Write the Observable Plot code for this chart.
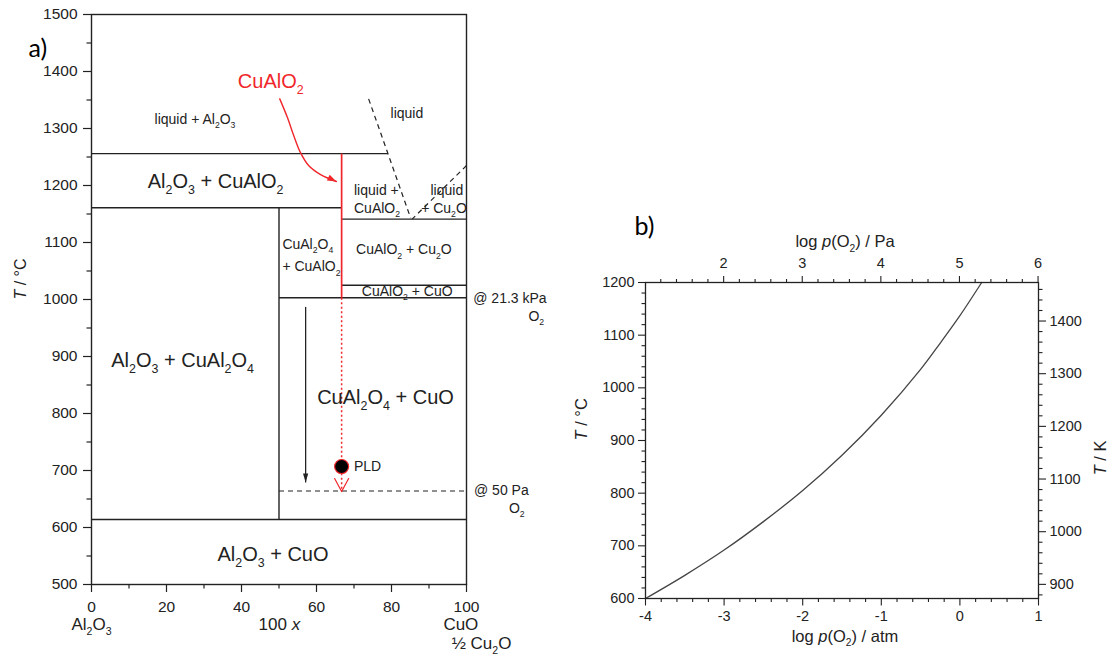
<!DOCTYPE html>
<html><head><meta charset="utf-8">
<script src="https://cdn.jsdelivr.net/npm/d3@7"></script>
<script src="https://cdn.jsdelivr.net/npm/@observablehq/plot@0.6"></script>
<style>
html,body{margin:0;padding:0;background:#fff;}
#wrap{position:relative;width:1114px;height:660px;overflow:hidden;background:#fff;}
#wrap svg{position:absolute;top:0;max-width:none !important;}
</style></head><body><div id="wrap"></div>
<script>
// ================= Panel a: Al2O3 – CuO/½Cu2O phase diagram (100 x , T / °C)
const tTicksA = [500, 600, 700, 800, 900, 1000, 1100, 1200, 1300, 1400, 1500];
const tMinorA = [550, 650, 750, 850, 950, 1050, 1150, 1250, 1350, 1450];
const xTicksA = [0, 20, 40, 60, 80, 100];
const xMinorA = [10, 30, 50, 70, 90];

// solid phase boundaries
const phaseLines = [
  {x1: 0, T1: 1256, x2: 79, T2: 1256},
  {x1: 0, T1: 1161, x2: 66.7, T2: 1161},
  {x1: 50, T1: 1161, x2: 50, T2: 614},
  {x1: 66.7, T1: 1141, x2: 100, T2: 1141},
  {x1: 66.7, T1: 1025, x2: 100, T2: 1025},
  {x1: 50, T1: 1003, x2: 100, T2: 1003},
  {x1: 0, T1: 614, x2: 100, T2: 614}
];
// dashed liquidus lines
const liquidusLines = [
  {x1: 73.9, T1: 1352, x2: 85.1, T2: 1143},
  {x1: 100, T1: 1235, x2: 85.5, T2: 1141}
];
// CuAlO2 line compound (solid red) and its metastable path (dotted red)
const cuAlO2Line = [{x: 66.7, T1: 1256, T2: 1003}];
const cuAlO2Path = [{x: 66.7, T1: 1003, T2: 663}];
const pldPoint = [{x: 66.7, T: 707}];
const coolingArrow = [{x: 57.1, T1: 987, T2: 679}];
const line50Pa = [{x1: 50, x2: 100, T: 664}];
// red curved pointer from the "CuAlO2" label
const pointerX = [50.2, 52.2, 53.9, 55.7, 57.9, 61.1, 65.3];
const pointerT = [1352, 1320, 1288, 1258, 1235, 1219, 1207];

const bigLabels = [
  {text: "Al_2O_3 + CuAlO_2", x: 33.1, T: 1206},
  {text: "Al_2O_3 + CuAl_2O_4", x: 24.3, T: 892},
  {text: "CuAl_2O_4 + CuO", x: 78.4, T: 828},
  {text: "Al_2O_3 + CuO", x: 48.4, T: 553}
];
const redLabel = [{text: "CuAlO_2", x: 47.8, T: 1382}];
const smallCentered = [
  {text: "liquid + Al_2O_3", x: 27.6, T: 1316},
  {text: "liquid", x: 84.1, T: 1327},
  {text: "CuAlO_2 + Cu_2O", x: 83.3, T: 1087},
  {text: "CuAlO_2 + CuO", x: 84.2, T: 1014}
];
const smallStart = [
  {text: "liquid +", x: 70, T: 1192},
  {text: "CuAlO_2", x: 70, T: 1160},
  {text: "liquid", x: 90.4, T: 1192},
  {text: "+ Cu_2O", x: 87.9, T: 1160},
  {text: "CuAl_2O_4", x: 50.9, T: 1097},
  {text: "+ CuAlO_2", x: 50.9, T: 1057},
  {text: "@ 21.3 kPa", x: 101.8, T: 1001},
  {text: "O_2", x: 116.5, T: 971},
  {text: "@ 50 Pa", x: 102, T: 665},
  {text: "O_2", x: 111.3, T: 633},
  {text: "PLD", x: 70, T: 707}
];
const endLabels = [
  {text: "Al_2O_3", x: 0, row: 1},
  {text: "100 *x*", x: 50.1, row: 1},
  {text: "CuO", x: 98.5, row: 1},
  {text: "½ Cu_2O", x: 104, row: 2}
];

// ================= Panel b: log p(O2) vs T (CuO / Cu2O equilibrium)
const logPatm = [-4, -3.5, -3, -2.5, -2, -1.5, -1, -0.5, -0.25, 0, 0.277];
const tempC   = [600, 644, 692, 746, 805, 872, 948, 1035, 1085, 1137, 1200];
const atmTicks = [-4, -3, -2, -1, 0, 1];
const paTicks = [2, 3, 4, 5, 6];
const tTicksB = [600, 700, 800, 900, 1000, 1100, 1200];
const kTicks = [900, 1000, 1100, 1200, 1300, 1400];
const PA_OFFSET = Math.log10(101325); // log(Pa) = log(atm) + 5.0057
const K_OFFSET = 273.15;

// ---------------------------------------------------------------
const FONT = "'Liberation Sans', Arial, sans-serif";
const INK = "#222";
const RED = "#f0262a";
const baseStyle = {fontFamily: FONT, fontSize: "15.5px", color: INK, background: "transparent", overflow: "visible"};

const vShape = {draw(c, l, r) { c.moveTo(-r, 0); c.lineTo(0, -l); c.lineTo(r, 0); }};

const plotA = Plot.plot({
  width: 580, height: 660,
  marginLeft: 91, marginRight: 114, marginTop: 14, marginBottom: 76,
  x: {domain: [0, 100], label: null},
  y: {domain: [500, 1500], label: null},
  style: baseStyle,
  marks: [
    Plot.axisY({ticks: tTicksA, tickSize: 8, tickPadding: 6, tickFormat: d => String(d), label: null, strokeWidth: 1.2}),
    Plot.axisY({ticks: tMinorA, tickSize: 4.5, tickFormat: () => "", label: null, strokeWidth: 1.2}),
    Plot.axisX({ticks: xTicksA, tickSize: 8, tickPadding: 8, tickFormat: d => String(d), label: null, strokeWidth: 1.2}),
    Plot.axisX({ticks: xMinorA, tickSize: 4.5, tickFormat: () => "", label: null, strokeWidth: 1.2}),
    Plot.link(phaseLines, {x1: "x1", y1: "T1", x2: "x2", y2: "T2", stroke: INK, strokeWidth: 1.4}),
    Plot.link(liquidusLines, {x1: "x1", y1: "T1", x2: "x2", y2: "T2", stroke: INK, strokeWidth: 1.2, strokeDasharray: "5,4"}),
    Plot.link(line50Pa, {x1: "x1", x2: "x2", y1: "T", y2: "T", stroke: INK, strokeWidth: 1.2, strokeDasharray: "5,4"}),
    Plot.link(cuAlO2Line, {x1: "x", x2: "x", y1: "T1", y2: "T2", stroke: RED, strokeWidth: 1.7}),
    Plot.link(cuAlO2Path, {x1: "x", x2: "x", y1: "T1", y2: "T2", stroke: RED, strokeWidth: 1.5, strokeDasharray: "2,2.5"}),
    Plot.vector(cuAlO2Path, {x: "x", y: "T2", length: 13, r: 7, rotate: 180, anchor: "end", shape: vShape, stroke: RED, strokeWidth: 1.2, fill: "none"}),
    Plot.link(coolingArrow, {x1: "x", x2: "x", y1: "T1", y2: "T2", stroke: INK, strokeWidth: 1.3}),
    Plot.vector(coolingArrow, {x: "x", y: "T2", length: 9, r: 2.6, rotate: 180, anchor: "end", shape: "spike", fill: INK, stroke: "none"}),
    Plot.line(pointerX.map((x, i) => ({x, T: pointerT[i]})), {x: "x", y: "T", curve: "catmull-rom", stroke: RED, strokeWidth: 1.4}),
    Plot.vector([{x: pointerX[pointerX.length - 1], T: pointerT[pointerT.length - 1]}], {x: "x", y: "T", length: 9, r: 3.2, rotate: 116, anchor: "end", shape: "spike", fill: RED, stroke: "none"}),
    Plot.dot(pldPoint, {x: "x", y: "T", r: 7, fill: "#000", stroke: RED, strokeWidth: 1.2}),
    Plot.frame({stroke: INK, strokeWidth: 1.4}),
    Plot.text(bigLabels, {x: "x", y: "T", text: "text", fontSize: 20, fill: INK}),
    Plot.text(redLabel, {x: "x", y: "T", text: "text", fontSize: 20, fill: RED}),
    Plot.text(smallCentered, {x: "x", y: "T", text: "text", fontSize: 14, fill: INK}),
    Plot.text(smallStart, {x: "x", y: "T", text: "text", fontSize: 14, fill: INK, textAnchor: "start"}),
    Plot.text(endLabels.filter(d => d.row === 1), {x: "x", text: "text", frameAnchor: "bottom", dy: 45, fontSize: 17, fill: INK}),
    Plot.text(endLabels.filter(d => d.row === 2), {x: "x", text: "text", frameAnchor: "bottom", dy: 64, fontSize: 17, fill: INK}),
    Plot.text(["*T* / °C"], {text: d => d, frameAnchor: "left", dx: -71, rotate: -90, fontSize: 16, fill: INK}),
    Plot.text(["a)"], {text: d => d, frameAnchor: "top-left", dx: -63, dy: 25, fontSize: 25, fontFamily: "Lato, 'Open Sans', sans-serif", fill: "#000"})
  ]
});

const atmMinor = d3.range(-4, 1.0001, 0.2).filter(v => Math.abs(v - Math.round(v)) > 1e-6);
const paMinor = d3.range(1.2, 6.0001, 0.2).filter(v => Math.abs(v - Math.round(v)) > 1e-6).map(v => v - PA_OFFSET).filter(v => v >= -4 && v <= 1);
const tMinorB = d3.range(620, 1200, 20).filter(v => v % 100 !== 0);
const kMinor = d3.range(880, 1480, 20).filter(v => v % 100 !== 0).map(v => v - K_OFFSET).filter(v => v >= 600 && v <= 1200);

const plotB = Plot.plot({
  width: 534, height: 660,
  marginLeft: 65, marginRight: 76, marginTop: 282, marginBottom: 62,
  x: {domain: [-4, 1], label: null},
  y: {domain: [600, 1200], label: null},
  style: {...baseStyle, fontSize: "14.5px"},
  marks: [
    Plot.axisX({ticks: atmTicks, anchor: "bottom", tickSize: 7.5, tickPadding: 5, tickFormat: d => String(d), label: null, strokeWidth: 1.1}),
    Plot.axisX({ticks: atmMinor, anchor: "bottom", tickSize: 4, tickFormat: () => "", label: null, strokeWidth: 1.1}),
    Plot.axisX({ticks: paTicks.map(v => v - PA_OFFSET), anchor: "top", tickSize: 7, tickPadding: 8, tickFormat: d => String(Math.round(d + PA_OFFSET)), label: null, strokeWidth: 1.1}),
    Plot.axisX({ticks: paMinor, anchor: "top", tickSize: 4, tickFormat: () => "", label: null, strokeWidth: 1.1}),
    Plot.axisY({ticks: tTicksB, anchor: "left", tickSize: 7, tickPadding: 4, tickFormat: d => String(d), label: null, strokeWidth: 1.1}),
    Plot.axisY({ticks: tMinorB, anchor: "left", tickSize: 3.5, tickFormat: () => "", label: null, strokeWidth: 1.1}),
    Plot.axisY({ticks: kTicks.map(v => v - K_OFFSET), anchor: "right", tickSize: 7, tickPadding: 4, tickFormat: d => String(Math.round(d + K_OFFSET)), label: null, strokeWidth: 1.1}),
    Plot.axisY({ticks: kMinor, anchor: "right", tickSize: 3.5, tickFormat: () => "", label: null, strokeWidth: 1.1}),
    Plot.line(logPatm.map((x, i) => ({x, T: tempC[i]})), {x: "x", y: "T", curve: "catmull-rom", stroke: "#444", strokeWidth: 1.3}),
    Plot.frame({stroke: INK, strokeWidth: 1.3}),
    Plot.text(["log *p*(O_2) / Pa"], {text: d => d, frameAnchor: "top", dx: 3, dy: -47, fontSize: 16.5, fill: INK}),
    Plot.text(["log *p*(O_2) / atm"], {text: d => d, frameAnchor: "bottom", dx: 3, dy: 43, fontSize: 16.5, fill: INK}),
    Plot.text(["*T* / °C"], {text: d => d, frameAnchor: "left", dx: -64, rotate: -90, fontSize: 16.5, fill: INK}),
    Plot.text(["*T* / K"], {text: d => d, frameAnchor: "right", dx: 62, rotate: -90, fontSize: 16.5, fill: INK}),
    Plot.text(["b)"], {text: d => d, frameAnchor: "top-left", dx: -11, dy: -65, fontSize: 25, fontFamily: "Lato, 'Open Sans', sans-serif", fill: "#000"})
  ]
});

// rich text: "_d" -> subscript, "*t*" -> italic
function richText(svg) {
  const NS = "http://www.w3.org/2000/svg";
  svg.querySelectorAll("text, tspan").forEach(t => {
    if (t.children.length) return;
    const s = t.textContent;
    if (!/_\d|\*/.test(s)) return;
    t.textContent = "";
    let lowered = false;
    for (const m of s.matchAll(/_(\d)|\*([^*]+)\*|([^_*]+)/g)) {
      const ts = document.createElementNS(NS, "tspan");
      if (m[1]) {
        ts.textContent = m[1];
        ts.setAttribute("font-size", "62%");
        ts.setAttribute("dy", lowered ? "0em" : "0.48em");
        lowered = true;
      } else {
        ts.textContent = m[2] || m[3];
        if (m[2]) ts.setAttribute("font-style", "italic");
        if (lowered) { ts.setAttribute("dy", "-0.2976em"); lowered = false; }
      }
      t.appendChild(ts);
    }
  });
}
richText(plotA); richText(plotB);
plotA.style.left = "0px";
plotB.style.left = "580px";
const wrap = document.getElementById("wrap");
wrap.appendChild(plotA);
wrap.appendChild(plotB);
</script></body></html>
